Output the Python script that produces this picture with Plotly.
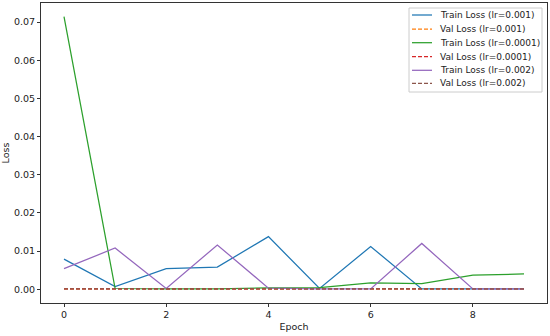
import plotly.graph_objects as go

epochs = list(range(10))
train_001 = [0.0079, 0.0007, 0.0054, 0.0058, 0.0138, 0.0002, 0.0112, 0.0001, 0.0001, 0.0001]
val_001 = [0.0001, 0.0001, 0.0001, 0.0001, 0.0001, 0.0001, 0.0001, 0.0001, 0.0001, 0.0001]
train_0001 = [0.0714, 0.0002, 0.0001, 0.0001, 0.00035, 0.0004, 0.0017, 0.0015, 0.0037, 0.0040]
val_0001 = [0.0001, 0.0001, 0.0001, 0.0001, 0.0001, 0.0001, 0.0001, 0.0001, 0.0001, 0.0001]
train_002 = [0.0054, 0.0108, 0.0002, 0.0116, 0.0003, 0.0001, 0.0001, 0.0120, 0.0001, 0.0001]
val_002 = [0.0001, 0.0001, 0.0001, 0.0001, 0.0001, 0.0001, 0.0001, 0.0001, 0.0001, 0.0001]
y_ticks = [0, 0.01, 0.02, 0.03, 0.04, 0.05, 0.06, 0.07]
x_ticks = [0, 2, 4, 6, 8]

series = [
    ("Train Loss (lr=0.001)", train_001, "#1f77b4", "solid"),
    ("Val Loss (lr=0.001)", val_001, "#ff7f0e", "4px,2px"),
    ("Train Loss (lr=0.0001)", train_0001, "#2ca02c", "solid"),
    ("Val Loss (lr=0.0001)", val_0001, "#d62728", "4px,2px"),
    ("Train Loss (lr=0.002)", train_002, "#9467bd", "solid"),
    ("Val Loss (lr=0.002)", val_002, "#8c564b", "4px,2px"),
]

W, H = 550, 336
ML, MR, MT, MB = 41, 3, 3, 33
PW, PH = W - ML - MR, H - MT - MB

def px_x(px):
    return (px - ML) / PW

def px_y(py):
    return (H - MB - py) / PH

fig = go.Figure()
for name, vals, color, dash in series:
    fig.add_trace(go.Scatter(x=epochs, y=vals, mode="lines", name=name,
                             showlegend=False,
                             line=dict(color=color, width=1.25, dash=dash)))

font = "DejaVu Sans"
fs = 9.5
lfs = 9

# Custom legend (matplotlib-style compact rows)
shapes = [dict(type="rect", xref="paper", yref="paper",
               x0=px_x(409), x1=px_x(542), y0=px_y(92), y1=px_y(8),
               line=dict(color="#cccccc", width=1),
               fillcolor="rgba(255,255,255,0.8)", layer="above")]
annotations = []
row_y = [15, 29, 42.7, 56.7, 70.3, 83.3]
for (name, vals, color, dash), ry in zip(series, row_y):
    shapes.append(dict(type="line", xref="paper", yref="paper",
                       x0=px_x(412), x1=px_x(432), y0=px_y(ry), y1=px_y(ry),
                       line=dict(color=color, width=1.25, dash=dash), layer="above"))
    annotations.append(dict(xref="paper", yref="paper", x=px_x(438), y=px_y(ry),
                            xanchor="left", yanchor="middle", showarrow=False,
                            text=name, font=dict(size=lfs, family=font, color="#222")))

fig.update_layout(
    width=W, height=H,
    margin=dict(l=ML, r=MR, t=MT, b=MB, autoexpand=False),
    paper_bgcolor="white", plot_bgcolor="white",
    font=dict(family=font, size=fs, color="#222"),
    showlegend=False,
    shapes=shapes, annotations=annotations,
)
fig.update_xaxes(range=[-0.45, 9.45], tickvals=x_ticks, ticks="outside",
                 ticklen=3, tickcolor="#333", showline=True, linecolor="#333",
                 linewidth=1, mirror=True, showgrid=False, zeroline=False,
                 automargin=False,
                 title=dict(text="Epoch", font=dict(size=fs), standoff=3))
fig.update_yaxes(range=[-0.0036, 0.075], tickvals=y_ticks,
                 tickformat=".2f", ticks="outside", ticklen=3, tickcolor="#333",
                 showline=True, linecolor="#333", linewidth=1, mirror=True,
                 showgrid=False, zeroline=False, automargin=False,
                 title=dict(text="Loss", font=dict(size=fs), standoff=6))

fig.write_html("out.html", config={"displayModeBar": False},
               post_script="document.body.style.margin='0';document.body.style.overflow='hidden';")
